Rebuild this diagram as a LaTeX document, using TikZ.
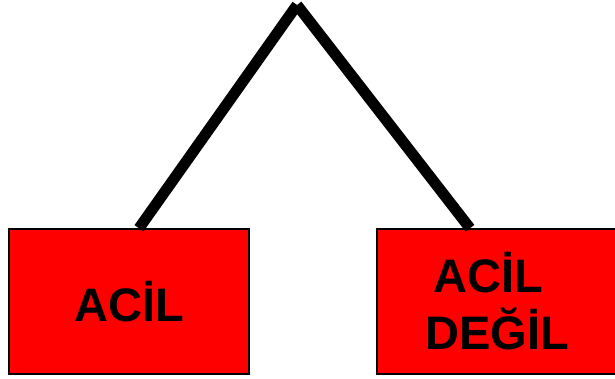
\documentclass[tikz,border=0pt]{standalone}
\usepackage{fontspec}
\setmainfont{Liberation Sans}

\begin{document}
\begin{tikzpicture}[x=1pt,y=-1pt]
\tikzset{
  box/.style={draw=black, line width=1.5pt, fill=red, minimum width=240pt, minimum height=145pt, inner sep=0pt, align=center, font=\fontsize{47}{57}\selectfont\bfseries},
  branch/.style={line width=11pt, black}
}
\useasboundingbox (0,0) rectangle (615,378);

% the two choices
\node[box] (acil) at (129,301.5) {AC\.IL};
\node[box] (degil) at (497,301.5) {AC\.IL\hspace*{0.35em}\\DE\u{G}\.IL};

% top of the tree
\coordinate (top) at (297,5);

% branches down to the boxes
\draw[branch] (top) -- ([xshift=10pt]acil.north);
\draw[branch] (top) -- ([xshift=-27pt]degil.north);

\end{tikzpicture}
\end{document}
